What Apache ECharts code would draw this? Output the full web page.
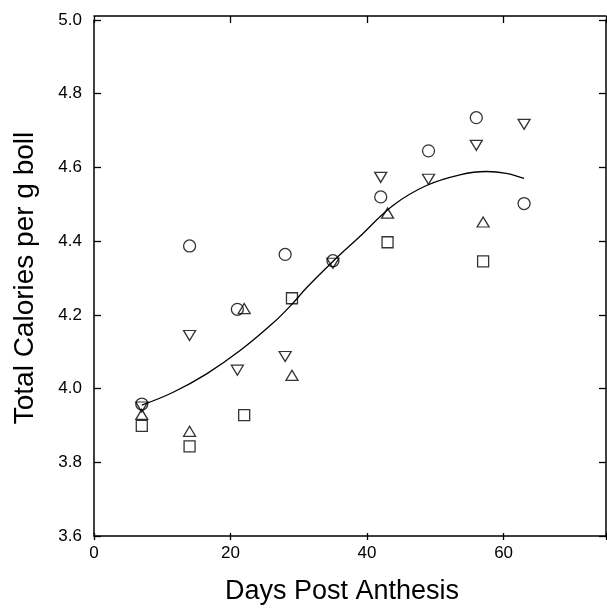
<!DOCTYPE html>
<html>
<head>
<meta charset="utf-8">
<script src="https://cdn.jsdelivr.net/npm/echarts@6/dist/echarts.min.js"></script>
<style>
  html, body { margin: 0; padding: 0; background: #fff; }
  #chart { width: 607px; height: 610px; }
</style>
</head>
<body>
<div id="chart"></div>
<script>
// Data
var circleX = [7, 14, 21, 28, 35, 42, 49, 56, 63];
var circleY = [3.958, 4.387, 4.215, 4.364, 4.347, 4.520, 4.645, 4.735, 4.502];

var downTriX = [7, 14, 21, 28, 35, 42, 49, 56, 63];
var downTriY = [3.950, 4.144, 4.050, 4.087, 4.340, 4.573, 4.568, 4.660, 4.717];

var upTriX = [7, 14, 22, 29, 43, 57];
var upTriY = [3.930, 3.884, 4.217, 4.036, 4.476, 4.452];

var squareX = [7, 14, 22, 29, 43, 57];
var squareY = [3.899, 3.843, 3.928, 4.245, 4.397, 4.345];

var curveX = [7, 11.6, 16.5, 21.4, 26.3, 29.2, 31.1, 35.0, 38.9, 43.8, 48.7, 53.6, 57.5, 60.4, 63];
var curveY = [3.955, 3.990, 4.040, 4.103, 4.179, 4.233, 4.273, 4.345, 4.412, 4.497, 4.551, 4.580, 4.589, 4.584, 4.570];

var xMin = 0, xMax = 75, xStep = 20;
var yMin = 3.6, yMax = 5.0, yStep = 0.2;

var xTitle = 'Days Post Anthesis';
var yTitle = 'Total Calories per g boll';

function pairs(xs, ys) {
  return xs.map(function (x, i) { return [x, ys[i]]; });
}

var FONT = 'Liberation Sans, Arial, Helvetica, sans-serif';
var hollow = { color: 'rgba(0,0,0,0)', borderColor: '#000', borderWidth: 1.3 };

var GRID = { left: 94, right: 1, top: 20, bottom: 70 };
var W = 607, H = 610;
var plotW = W - GRID.left - GRID.right;
var plotH = H - GRID.top - GRID.bottom;

var chart = echarts.init(document.getElementById('chart'), null, { renderer: 'canvas' });

var lineOn = { show: true, onZero: false, lineStyle: { color: '#000', width: 1.5 } };
var lineOff = { show: false, onZero: false };
var tickOn = { show: true, length: 7, lineStyle: { color: '#000', width: 1.3 } };
var noLabel = { show: false };
var noSplit = { show: false };

function xBase(extra) {
  return Object.assign({ type: 'value', min: xMin, max: xMax, interval: xStep, splitLine: noSplit }, extra);
}
function yBase(extra) {
  return Object.assign({ type: 'value', min: yMin, max: yMax, interval: yStep, splitLine: noSplit }, extra);
}

chart.setOption({
  backgroundColor: '#fff',
  animation: false,
  grid: Object.assign({ containLabel: false }, GRID),
  xAxis: [
    xBase({
      position: 'bottom',
      axisLine: lineOn, axisTick: { show: false },
      axisLabel: { color: '#000', fontFamily: FONT, fontSize: 17, margin: 9, showMaxLabel: false },
      name: xTitle, nameLocation: 'middle', nameGap: 42,
      nameTextStyle: { color: '#000', fontFamily: FONT, fontSize: 27, padding: [0, 16, 0, 0] }
    }),
    // top frame line, ticks pointing down into the plot
    xBase({ position: 'bottom', offset: -plotH, axisLine: lineOn, axisTick: tickOn, axisLabel: noLabel }),
    // ticks on the bottom edge pointing up into the plot
    xBase({ position: 'top', offset: -plotH, axisLine: lineOff, axisTick: tickOn, axisLabel: noLabel })
  ],
  yAxis: [
    yBase({
      position: 'left',
      axisLine: lineOn, axisTick: { show: false },
      axisLabel: { color: '#000', fontFamily: FONT, fontSize: 17, margin: 12,
        formatter: function (v) { return v.toFixed(1); } },
      name: yTitle, nameLocation: 'middle', nameGap: 55,
      nameTextStyle: { color: '#000', fontFamily: FONT, fontSize: 28 }
    }),
    // right frame line, ticks pointing left into the plot
    yBase({ position: 'left', offset: -plotW, axisLine: lineOn, axisTick: tickOn, axisLabel: noLabel }),
    // ticks on the left edge pointing right into the plot
    yBase({ position: 'right', offset: -plotW, axisLine: lineOff, axisTick: tickOn, axisLabel: noLabel })
  ],
  series: [
    {
      type: 'line', data: pairs(curveX, curveY), smooth: 0.4,
      showSymbol: false, symbol: 'none',
      lineStyle: { color: '#000', width: 1.3 }, z: 1
    },
    {
      type: 'scatter', data: pairs(circleX, circleY), symbol: 'circle', symbolSize: 12,
      itemStyle: hollow, z: 3
    },
    {
      type: 'scatter', data: pairs(downTriX, downTriY), symbol: 'triangle', symbolSize: [12, 10],
      symbolRotate: 180, itemStyle: hollow, z: 3
    },
    {
      type: 'scatter', data: pairs(upTriX, upTriY), symbol: 'triangle', symbolSize: [12, 10],
      itemStyle: hollow, z: 3
    },
    {
      type: 'scatter', data: pairs(squareX, squareY), symbol: 'rect', symbolSize: 11,
      itemStyle: hollow, z: 3
    }
  ]
});
</script>
</body>
</html>
